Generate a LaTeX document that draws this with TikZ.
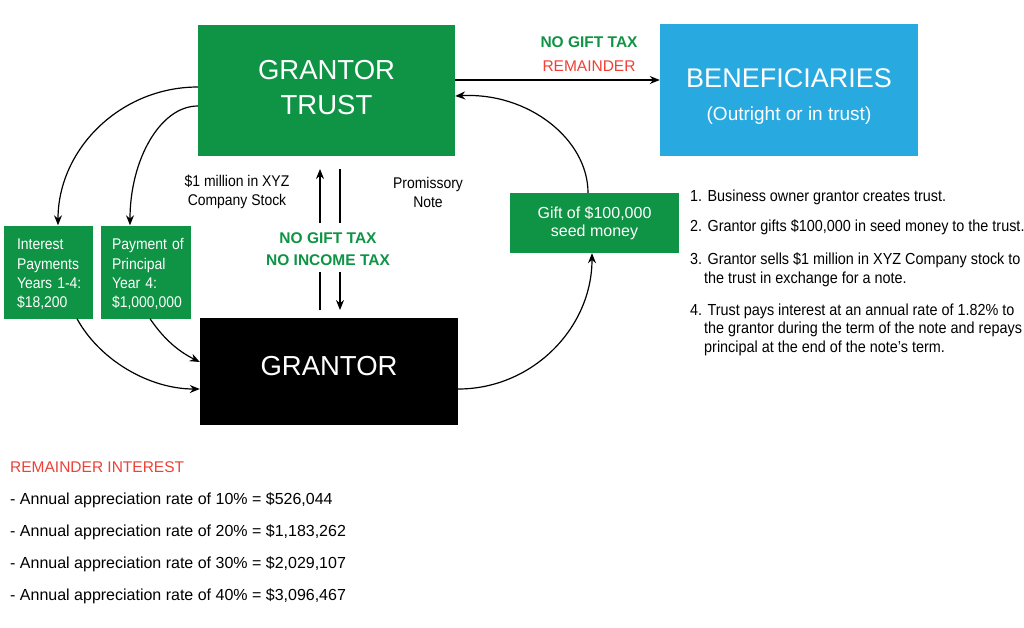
\documentclass[tikz,border=0pt]{standalone}
\usepackage{fontspec}
\setmainfont{Liberation Sans}
\newfontfamily\cond[FakeStretch=0.9]{Liberation Sans}
\usetikzlibrary{arrows.meta}
\definecolor{tgreen}{RGB}{14,148,68}
\definecolor{tblue}{RGB}{40,170,225}
\definecolor{tred}{RGB}{239,65,54}
\begin{document}
\begin{tikzpicture}[x=1pt,y=-1pt,
  gbox/.style={fill=tgreen,text=white,inner sep=0pt,align=center},
  arr/.style={-{Stealth[length=10pt,width=8pt]},line width=1.2pt},
  ln/.style={line width=1.2pt},
  condlbl/.style={font=\cond\fontsize{15.5}{19}\selectfont,align=center,inner sep=0pt}]
\useasboundingbox[fill=white] (0,0) rectangle (1024,627);

% boxes
\node[gbox,minimum width=257,minimum height=131,font=\fontsize{27.5}{35}\selectfont] (trust) at (326.5,90) {GRANTOR\\TRUST\rule[-5pt]{0pt}{5pt}};
\node[gbox,fill=tblue,minimum width=258,minimum height=132,font=\fontsize{27}{33}\selectfont] (ben) at (789,90) {\rule{0pt}{31pt}BENEFICIARIES\\{\fontsize{19}{33}\selectfont (Outright or in trust)}};
\node[fill=black,text=white,inner sep=0pt,minimum width=258,minimum height=107,text height=20pt,text depth=13pt,font=\fontsize{27.5}{33}\selectfont] (gr) at (329,371.5) {GRANTOR};
\node[gbox,minimum width=89,minimum height=93,text width=63,inner xsep=13,align=left,font=\cond\fontsize{15.5}{19.3}\selectfont] (int) at (48.5,272) {\rule{0pt}{15.5pt}\mbox{Interest}\\\mbox{Payments}\\\mbox{Years 1-4:}\\\mbox{\$18,200}};
\node[gbox,minimum width=90,minimum height=93,text width=68,inner xsep=11,align=left,font=\cond\fontsize{15.5}{19.3}\selectfont] (pay) at (146,272) {\rule{0pt}{15.5pt}\mbox{Payment of}\\\mbox{Principal}\\\mbox{Year 4:}\\\mbox{\$1,000,000}};
\node[gbox,minimum width=169,minimum height=60,font=\fontsize{16}{18.5}\selectfont] (gift) at (594.5,223) {Gift of \$100,000\\seed money};

% labels
\node[condlbl] (stock) at (237,192) {\$1 million in XYZ\\Company Stock};
\node[condlbl] (note) at (428,192) {Promissory\\Note};
\node[font=\bfseries\fontsize{15.5}{22}\selectfont,text=tgreen,align=center,inner sep=0pt] (tax1) at (328,249) {NO GIFT TAX\\NO INCOME TAX};
\node[font=\fontsize{15.5}{24}\selectfont,align=center,inner sep=0pt] (tax2) at (589,54) {\textcolor{tgreen}{\bfseries NO GIFT TAX}\\\textcolor{tred}{REMAINDER}};

% list
\node[anchor=north west,inner sep=0pt,align=left,font=\cond\fontsize{16}{18.5}\selectfont] (list) at (690,190) {1. Business owner grantor creates trust.\\[11.5pt]
2. Grantor gifts \$100,000 in seed money to the trust.\\[14.5pt]
3. Grantor sells \$1 million in XYZ Company stock to\\
\hspace*{14pt}the trust in exchange for a note.\\[13.5pt]
4. Trust pays interest at an annual rate of 1.82\% to\\
\hspace*{14pt}the grantor during the term of the note and repays\\
\hspace*{14pt}principal at the end of the note’s term.};

% remainder interest
\node[anchor=north west,inner sep=0pt,align=left,font=\fontsize{16}{32}\selectfont] (rem) at (10,461) {{\color{tred}\fontsize{15.5}{32}\selectfont REMAINDER INTEREST}\\
- Annual appreciation rate of 10\% = \$526,044\\
- Annual appreciation rate of 20\% = \$1,183,262\\
- Annual appreciation rate of 30\% = \$2,029,107\\
- Annual appreciation rate of 40\% = \$3,096,467};

% coordinates for the split vertical connectors
\coordinate (ua) at (320,310);
\coordinate (ub) at (320,272);
\coordinate (uc) at (320,223);
\coordinate (ud) at (320,169);
\coordinate (da) at (340,169);
\coordinate (db) at (340,223);
\coordinate (dc) at (340,272);
\coordinate (dd) at (340,310);

% connectors
\draw[arr] ([yshift=10pt]trust.east) -- ([yshift=10pt]ben.west);
\draw[ln] (ua) -- (ub);
\draw[arr] (uc) -- (ud);
\draw[ln] (da) -- (db);
\draw[arr] (dc) -- (dd);
\draw[arr] ([yshift=3pt]trust.west) .. controls +(-77.3,0) and +(0,-76.2) .. ([xshift=9.5pt]int.north);
\draw[arr] ([yshift=-16pt]trust.west) .. controls +(-37.5,0) and +(0,-65.7) .. ([xshift=-16pt]pay.north);
\draw[arr] ([xshift=28.5pt]int.south) .. controls +(23,42) and +(-50,0) .. ([yshift=-17.5pt]gr.west);
\draw[arr] ([xshift=4pt]pay.south) .. controls +(15,22) and +(-20,-10) .. ([yshift=9.5pt]gr.west);
\draw[arr] ([yshift=-17.5pt]gr.east) .. controls +(74,0) and +(0,75) .. ([xshift=-2.5pt]gift.south);
\draw[arr] ([xshift=-6.5pt]gift.north) .. controls +(0,-53.5) and +(73,-4) .. ([yshift=-6pt]trust.east);
\end{tikzpicture}
\end{document}
